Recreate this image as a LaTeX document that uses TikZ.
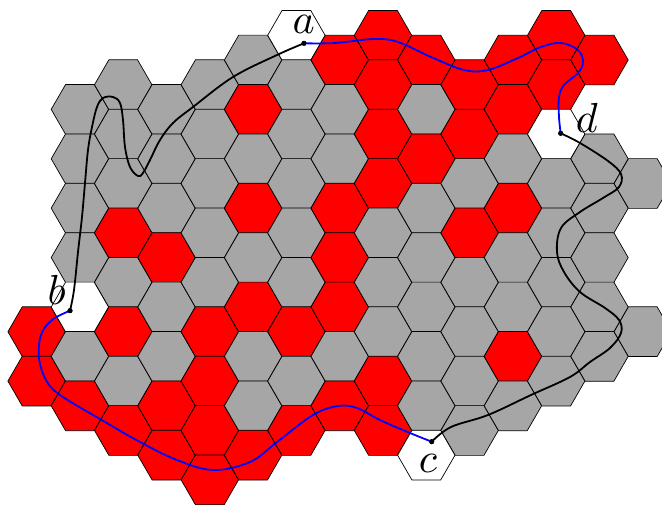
\documentclass[tikz,border=0pt]{standalone}
\usepackage{graphicx}
\usetikzlibrary{shapes.geometric}
\begin{document}
\begin{tikzpicture}[x=1pt,y=-1pt]
    \tikzset{hexcell/.style = {regular polygon,regular polygon sides=6,minimum size=57.4pt,inner sep=0pt,draw=black,line width=.7pt},
      cR/.style = {fill=red}, cG/.style = {fill=gray!70}, cW/.style = {fill=white},
      route/.style = {line width=1.8pt,line cap=round}, dot/.style = {circle,fill=black,inner sep=0pt,minimum size=5pt}}
    \useasboundingbox (0,0) rectangle (662,505);
    % board, column by column
    \foreach \k/\j/\c in {0/6/R,0/7/R,
      1/1/G,1/2/G,1/3/G,1/4/G,1/5/W,1/6/G,1/7/R,
      2/1/G,2/2/G,2/3/G,2/4/R,2/5/G,2/6/R,2/7/G,2/8/R,
      3/1/G,3/2/G,3/3/G,3/4/R,3/5/G,3/6/G,3/7/R,3/8/R,
      4/1/G,4/2/G,4/3/G,4/4/G,4/5/G,4/6/R,4/7/R,4/8/R,4/9/R,
      5/0/G,5/1/R,5/2/G,5/3/R,5/4/G,5/5/R,5/6/G,5/7/G,5/8/R,
      6/0/W,6/1/G,6/2/G,6/3/G,6/4/G,6/5/G,6/6/R,6/7/G,6/8/R,
      7/0/R,7/1/G,7/2/G,7/3/R,7/4/R,7/5/R,7/6/G,7/7/R,
      8/0/R,8/1/R,8/2/R,8/3/R,8/4/G,8/5/G,8/6/G,8/7/R,8/8/R,
      9/0/R,9/1/G,9/2/R,9/3/G,9/4/G,9/5/G,9/6/G,9/7/G,9/8/W,
      10/1/R,10/2/R,10/3/G,10/4/R,10/5/G,10/6/G,10/7/G,10/8/G,
      11/0/R,11/1/R,11/2/G,11/3/R,11/4/G,11/5/G,11/6/R,11/7/G,
      12/0/R,12/1/R,12/2/W,12/3/G,12/4/G,12/5/G,12/6/G,12/7/G,
      13/0/R,13/2/G,13/3/G,13/4/G,13/5/G,13/6/G,
      14/3/G,14/6/G}{
      \pgfmathsetmacro\x{36.6+43.3*\k}
      \pgfmathsetmacro\y{35.3+24.7*mod(\k,2)+49.4*\j}
      \node[hexcell,c\c] (h\k-\j) at (\x,\y) {};
    }
    % end points
    \node[dot] (a) at (304,43.3) {};
    \node[dot] (b) at (70,310.7) {};
    \node[dot] (c) at (431.7,441.7) {};
    \node[dot] (d) at (560.7,133.3) {};
    \node (la) at (303.7,24.5) {\scalebox{4.2}{$a$}};
    \node (lb) at (56.7,289.5) {\scalebox{4.2}{$b$}};
    \node (lc) at (428,463.8) {\scalebox{4.2}{$c$}};
    \node (ld) at (586.8,118.3) {\scalebox{4.2}{$d$}};
    % paths
    \draw[route,blue] plot[smooth,tension=.6] coordinates {(a) (335,43) (374,39) (398,42) (431,57) (464,70) (488,70) (518,58) (541,47) (561,43) (578,50) (583,62) (578,73) (564,85) (559,97) (559,117) (d)};
    \draw[route,blue] plot[smooth,tension=.6] coordinates {(b) (52,320) (41,335) (39,358) (46,380) (60,395) (100,419) (140,442) (177,460) (213,470) (250,462) (277,442) (313,415) (338,406) (357,408) (380,420) (410,433) (c)};
    \draw[route] plot[smooth,tension=.6] coordinates {(a) (277,55) (233,77) (193,107) (173,123) (160,140) (150,160) (143,173) (138,176) (130,167) (125,147) (123,120) (120,103) (113,97) (103,98) (97,107) (92,127) (88,150) (85,183) (82,217) (78,252) (74,290) (b)};
    \draw[route] plot[smooth,tension=.6] coordinates {(c) (451,427) (488,415) (531,395) (570,377) (590,362) (610,348) (621,333) (619,320) (605,308) (580,292) (564,272) (557,252) (561,228) (580,212) (603,198) (619,187) (621,174) (608,161) (580,143) (d)};
    \node[dot] at (a) {};
    \node[dot] at (b) {};
    \node[dot] at (c) {};
    \node[dot] at (d) {};
\end{tikzpicture}
\end{document}
